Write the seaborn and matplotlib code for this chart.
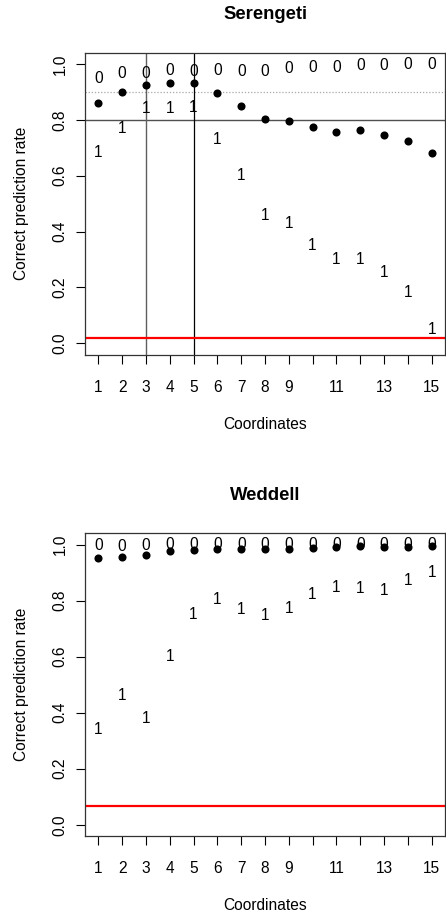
import numpy as np
import pandas as pd
import matplotlib
matplotlib.use("Agg")
import matplotlib.pyplot as plt
import seaborn as sns

sns.set_style("white")
plt.rcParams["font.family"] = ["Liberation Sans", "DejaVu Sans"]
plt.rcParams["text.color"] = "black"
plt.rcParams["axes.labelcolor"] = "black"
plt.rcParams["xtick.color"] = "black"
plt.rcParams["ytick.color"] = "black"

coords = list(range(1, 16))
tick_labels = ["1", "2", "3", "4", "5", "6", "7", "8", "9", "", "11", "", "13", "", "15"]

# Serengeti: overall rate (dots), class-0 and class-1 rates (text markers)
ser_overall = [0.859, 0.899, 0.924, 0.931, 0.931, 0.895, 0.848, 0.802, 0.796,
               0.773, 0.755, 0.763, 0.745, 0.723, 0.680]
ser_class0 = [0.946, 0.965, 0.965, 0.976, 0.973, 0.976, 0.971, 0.971, 0.983,
              0.987, 0.987, 0.994, 0.994, 0.996, 0.996]
ser_class1 = [0.683, 0.767, 0.840, 0.840, 0.845, 0.731, 0.600, 0.458, 0.430,
              0.350, 0.301, 0.301, 0.254, 0.183, 0.051]
ser_baseline = 0.02

# Weddell
wed_overall = [0.951, 0.956, 0.962, 0.977, 0.981, 0.985, 0.985, 0.985, 0.985,
               0.986, 0.992, 0.994, 0.992, 0.992, 0.994]
wed_class0 = [0.996, 0.992, 0.996, 1.0, 1.0, 1.0, 1.0, 1.0, 1.0,
              1.0, 1.0, 1.0, 1.0, 1.0, 1.0]
wed_class1 = [0.339, 0.462, 0.380, 0.601, 0.750, 0.805, 0.768, 0.746, 0.773,
              0.821, 0.848, 0.844, 0.837, 0.873, 0.901]
wed_baseline = 0.068

W, H = 446, 915
fig = plt.figure(figsize=(W / 100, H / 100), dpi=100)

FS = 11.2


def panel(rect, title, overall, c0, c1, baseline, guides):
    ax = fig.add_axes(rect)
    df = pd.DataFrame({"coord": coords, "rate": overall})
    if guides:
        ax.axhline(0.9, color="#a8a8a8", lw=0.9, ls=(0, (1, 1.5)), zorder=1)
        ax.axhline(0.8, color="#505050", lw=1.0, zorder=1)
        ax.axvline(3, color="#606060", lw=1.0, zorder=1)
        ax.axvline(5, color="black", lw=0.9, zorder=1)
    ax.axhline(baseline, color="red", lw=1.6, zorder=1)
    sns.scatterplot(data=df, x="coord", y="rate", ax=ax, color="black",
                    s=34, edgecolor="black", linewidth=0, zorder=3, legend=False)
    for x, a, b in zip(coords, c0, c1):
        ax.text(x, a, "0", ha="center", va="center", fontsize=FS, zorder=4)
        ax.text(x, b, "1", ha="center", va="center", fontsize=FS, zorder=4)
    ax.set_xlim(0.44, 15.56)
    ax.set_ylim(-0.04, 1.04)
    ax.set_xticks(coords)
    ax.set_xticklabels(tick_labels)
    ax.set_yticks([0, 0.2, 0.4, 0.6, 0.8, 1.0])
    ax.set_yticklabels(["0.0", "0.2", "0.4", "0.6", "0.8", "1.0"], rotation=90,
                       va="center")
    ax.tick_params(axis="both", direction="out", length=6.5, width=0.8,
                   color="black", labelsize=FS, bottom=True, left=True)
    ax.tick_params(axis="x", pad=11.5)
    ax.tick_params(axis="y", pad=6)
    for s in ax.spines.values():
        s.set_color("#333333")
        s.set_linewidth(0.9)
    ax.set_xlabel("Coordinates", fontsize=FS, labelpad=16)
    ax.set_ylabel("Correct prediction rate", fontsize=FS, labelpad=17)
    ax.set_title(title, fontsize=13.3, fontweight="bold", pad=24)
    return ax


panel([85 / W, (H - 354.5) / H, 360 / W, 301.8 / H], "Serengeti",
      ser_overall, ser_class0, ser_class1, ser_baseline, True)
panel([85 / W, (H - 836) / H, 360 / W, 302.7 / H], "Weddell",
      wed_overall, wed_class0, wed_class1, wed_baseline, False)

fig.savefig("out.png", dpi=100)
